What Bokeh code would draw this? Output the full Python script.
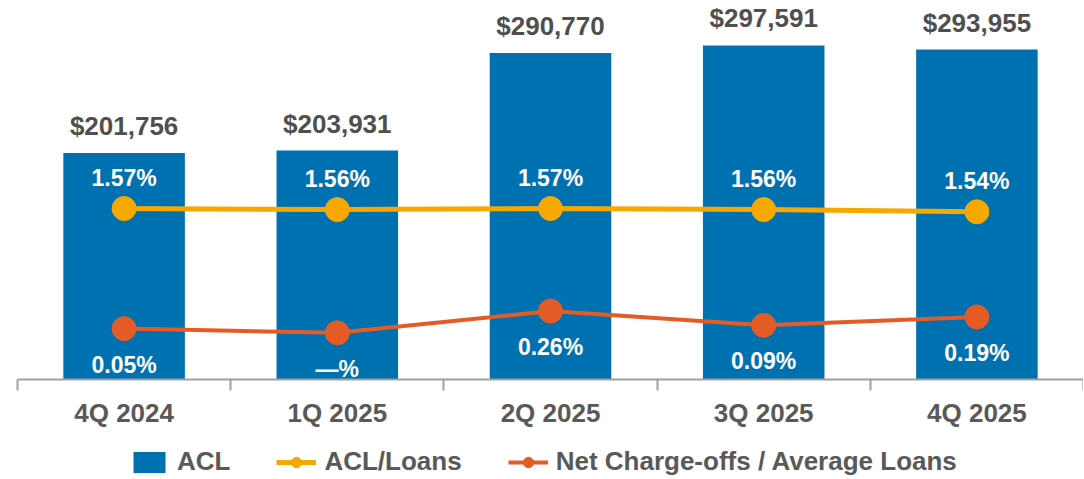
from bokeh.plotting import figure
from bokeh.layouts import column
from bokeh.models import (Range1d, LinearAxis, FixedTicker,
                          ColumnDataSource, LabelSet, Legend, LegendItem)
from bokeh.core.properties import value
from bokeh.embed import file_html
from bokeh.resources import INLINE

categories = ["4Q 2024", "1Q 2025", "2Q 2025", "3Q 2025", "4Q 2025"]
acl = [201756, 203931, 290770, 297591, 293955]
acl_loans = [1.57, 1.56, 1.57, 1.56, 1.54]
nco = [0.05, 0.00, 0.26, 0.09, 0.19]
series_names = ["ACL", "ACL/Loans", "Net Charge-offs / Average Loans"]

BLUE = "#0071B0"
ORANGE = "#F6A800"
RED = "#E55B26"
DARK = "#4F4F4F"
GRAY = "#595959"
AXIS = "#A0A0A0"
FONT = "Liberation Sans"

pos = [i + 0.5 for i in range(len(categories))]
bounds = list(range(len(categories) + 1))
src = ColumnDataSource(dict(
    x=pos, acl=acl, ratio=acl_loans, nco=nco,
    acl_lbl=[f"${v:,}" for v in acl],
    ratio_lbl=[f"{v:.2f}%" for v in acl_loans],
    nco_lbl=[("\u2014%" if v == 0 else f"{v:.2f}%") for v in nco],
))

p = figure(width=1083, height=437, x_range=Range1d(0, len(categories)),
           y_range=Range1d(0, 332300), output_backend="svg", toolbar_location=None,
           x_axis_location=None, y_axis_location=None,
           min_border_left=17, min_border_right=0, min_border_top=6, min_border_bottom=58)
p.outline_line_color = None
p.xgrid.visible = False
p.ygrid.visible = False
p.extra_y_ranges = {"ratio": Range1d(0.0155, 3.4065), "nco": Range1d(-0.5586, 3.903)}

p.vbar(x="x", top="acl", width=0.57, source=src, color=BLUE, line_color=None)
p.line(x="x", y="ratio", source=src, y_range_name="ratio", line_color=ORANGE, line_width=5)
p.scatter(x="x", y="ratio", source=src, y_range_name="ratio", size=24,
          fill_color=ORANGE, line_color=ORANGE)
p.line(x="x", y="nco", source=src, y_range_name="nco", line_color=RED, line_width=4)
p.scatter(x="x", y="nco", source=src, y_range_name="nco", size=24,
          fill_color=RED, line_color=RED)

common = dict(text_align="center", text_baseline="middle", text_font=value(FONT),
              text_font_style="bold")
p.add_layout(LabelSet(x="x", y="acl", text="acl_lbl", source=src, y_offset=27,
                      text_font_size="26px", text_color=DARK, **common))
p.add_layout(LabelSet(x="x", y="ratio", text="ratio_lbl", source=src, y_range_name="ratio",
                      y_offset=31, text_font_size="23px", text_color="white", **common))
p.add_layout(LabelSet(x="x", y="nco", text="nco_lbl", source=src, y_range_name="nco",
                      y_offset=-36, text_font_size="23px", text_color="white", **common))

xaxis = LinearAxis(ticker=FixedTicker(ticks=pos, minor_ticks=bounds),
                   major_label_overrides={x: c for x, c in zip(pos, categories)},
                   axis_line_color=AXIS, axis_line_width=2,
                   major_tick_line_color=None, major_tick_out=0, major_tick_in=0,
                   minor_tick_line_color=AXIS, minor_tick_line_width=2,
                   minor_tick_out=11, minor_tick_in=0,
                   major_label_text_font_size="26px", major_label_text_font=FONT,
                   major_label_text_font_style="bold", major_label_text_color=GRAY,
                   major_label_standoff=7)
p.add_layout(xaxis, "below")

# legend strip: proxies draw the same data outside the visible range
lf = figure(width=1083, height=40, x_range=Range1d(-20, -19), y_range=Range1d(-20, -19),
            output_backend="svg", toolbar_location=None,
            x_axis_location=None, y_axis_location=None,
            min_border_left=0, min_border_right=0, min_border_top=0, min_border_bottom=0)
lf.outline_line_color = None
lf.xgrid.visible = False
lf.ygrid.visible = False
r_bar = lf.vbar(x="x", top="acl", width=0.57, source=src, color=BLUE, line_color=None)
r_l1 = lf.line(x="x", y="ratio", source=src, line_color=ORANGE, line_width=5)
r_c1 = lf.scatter(x="x", y="ratio", source=src, size=24, fill_color=ORANGE, line_color=ORANGE)
r_l2 = lf.line(x="x", y="nco", source=src, line_color=RED, line_width=4)
r_c2 = lf.scatter(x="x", y="nco", source=src, size=24, fill_color=RED, line_color=RED)

legend = Legend(items=[LegendItem(label=series_names[0], renderers=[r_bar]),
                       LegendItem(label=series_names[1], renderers=[r_l1, r_c1]),
                       LegendItem(label=series_names[2], renderers=[r_l2, r_c2])],
                orientation="horizontal", location=(112, 0), glyph_width=40, glyph_height=26,
                label_standoff=8, spacing=46, padding=0, margin=0,
                border_line_color=None, background_fill_alpha=0,
                label_text_font=FONT, label_text_font_size="26px",
                label_text_font_style="bold", label_text_color=GRAY, label_height=26)
lf.add_layout(legend, "center")

layout = column(p, lf, spacing=0)
open("out.html", "w").write(file_html(layout, INLINE))
